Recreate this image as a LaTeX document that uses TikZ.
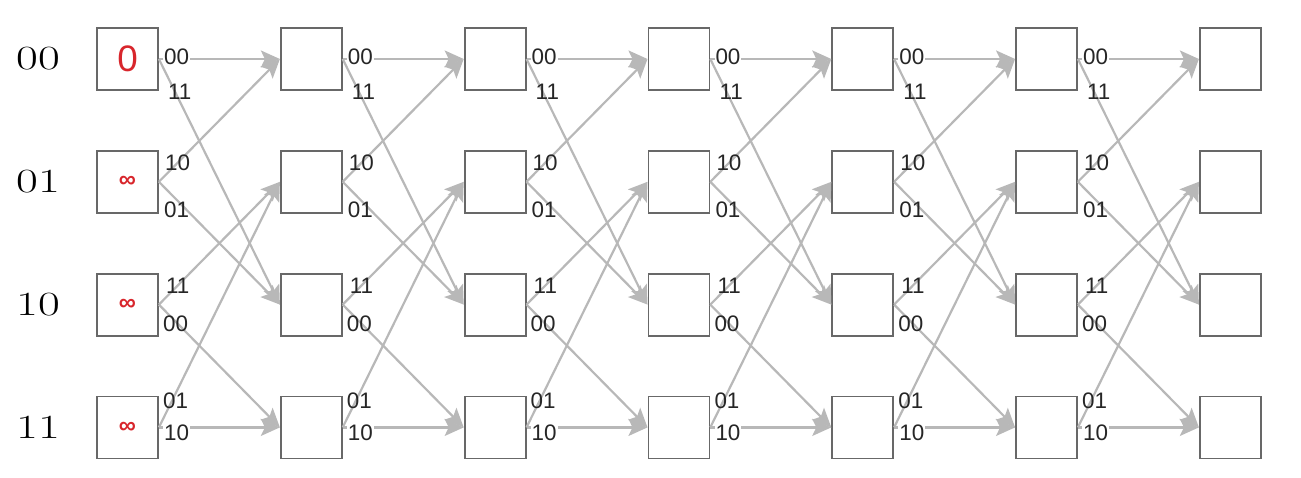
\documentclass[tikz,border=0pt]{standalone}
\usepackage{fontspec}
\usetikzlibrary{arrows.meta}
\newfontfamily\labfont{Liberation Sans}
\definecolor{edgec}{HTML}{B8B8B8}
\definecolor{boxc}{HTML}{686868}
\definecolor{redc}{HTML}{D8262C}
\begin{document}
\begin{tikzpicture}[x=1bp,y=-1bp,
  st/.style={draw=boxc, line width=1.8bp, minimum width=61bp, minimum height=62bp, inner sep=0pt},
  tr/.style={draw=edgec, line width=2.2bp, -{Stealth[length=19bp,width=17bp,inset=4bp]}},
  el/.style={font=\labfont\fontsize{22.5}{22.5}\selectfont, text=black!85, inner sep=0pt, anchor=west},
  elf/.style={el, fill=white, inner xsep=1bp},
  rl/.style={font=\fontsize{34}{34}\selectfont, inner sep=0pt},
  vl/.style={text=redc, inner sep=0pt},
  inf/.style={vl, font=\labfont\bfseries\fontsize{24}{24}\selectfont}]
\useasboundingbox (0,0) rectangle (1301,478);
% states
\foreach \c in {0,...,6}
  \foreach \r in {0,...,3}
    \node[st] (b\c\r) at ({127.5+183.8*\c},{59+122.8*\r}) {};
% row labels
\node[rl] (r0) at (38,59) {\scalebox{1.4}[1]{00}};
\node[rl] (r1) at (38,181.8) {\scalebox{1.4}[1]{01}};
\node[rl] (r2) at (38,304.6) {\scalebox{1.4}[1]{10}};
\node[rl] (r3) at (38,427.4) {\scalebox{1.4}[1]{11}};
% initial metrics
\node[vl, font=\labfont\fontsize{37}{37}\selectfont] (v0) at (b00.center) {0};
\node[inf] (v1) at (b01.center) {∞};
\node[inf] (v2) at (b02.center) {∞};
\node[inf] (v3) at (b03.center) {∞};
% transitions
\foreach \c [evaluate=\c as \n using {int(\c+1)}] in {0,...,5} {
  \draw[tr] (b\c0.east) -- (b\n0.west);
  \draw[tr] (b\c0.east) -- (b\n2.west);
  \draw[tr] (b\c1.east) -- (b\n0.west);
  \draw[tr] (b\c1.east) -- (b\n2.west);
  \draw[tr] (b\c2.east) -- (b\n1.west);
  \draw[tr] (b\c2.east) -- (b\n3.west);
  \draw[tr] (b\c3.east) -- (b\n1.west);
  \draw[tr] (b\c3.east) -- (b\n3.west);
  \path (b\c0.east) ++(4,-2) node[elf] (la\c0) {00};
  \path (b\c0.east) ++(9,33) node[el] (lb\c0) {11};
  \path (b\c1.east) ++(6,-19) node[el] (la\c1) {10};
  \path (b\c1.east) ++(5,28) node[el] (lb\c1) {01};
  \path (b\c2.east) ++(7,-19) node[el] (la\c2) {11};
  \path (b\c2.east) ++(4,19) node[el] (lb\c2) {00};
  \path (b\c3.east) ++(4,-27) node[el] (la\c3) {01};
  \path (b\c3.east) ++(4,5) node[elf] (lb\c3) {10};
}
\end{tikzpicture}
\end{document}
